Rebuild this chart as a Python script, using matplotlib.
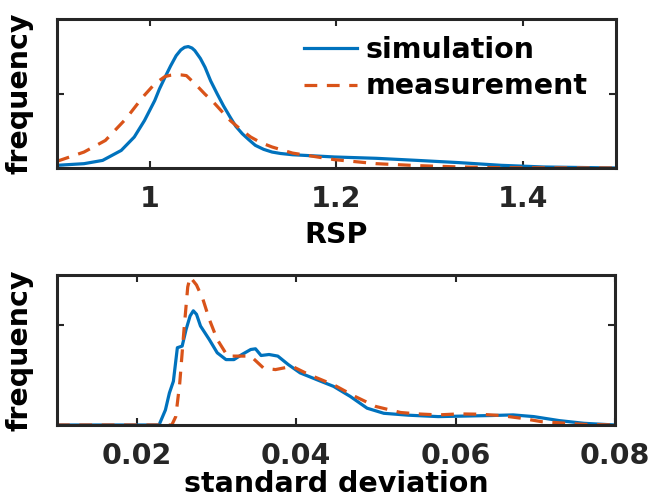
import numpy as np
import matplotlib
matplotlib.use("Agg")
import matplotlib.pyplot as plt

# RSP distribution (top panel)
rsp_sim_x = [0.900, 0.929, 0.949, 0.969, 0.983, 0.994, 1.005, 1.010, 1.016, 1.022,
             1.028, 1.033, 1.037, 1.041, 1.045, 1.048, 1.054, 1.059, 1.065, 1.072,
             1.079, 1.086, 1.092, 1.099, 1.106, 1.113, 1.122, 1.131, 1.140, 1.153,
             1.198, 1.243, 1.287, 1.332, 1.377, 1.422, 1.500]
rsp_sim_y = [0.036, 0.058, 0.102, 0.236, 0.416, 0.638, 0.906, 1.060, 1.218, 1.370,
             1.508, 1.585, 1.620, 1.630, 1.610, 1.576, 1.470, 1.352, 1.170, 0.996,
             0.830, 0.682, 0.560, 0.460, 0.380, 0.304, 0.250, 0.214, 0.195, 0.178,
             0.148, 0.130, 0.102, 0.072, 0.036, 0.014, 0.000]

rsp_meas_x = [0.900, 0.929, 0.952, 0.974, 0.992, 1.005, 1.016, 1.022, 1.028, 1.033,
              1.039, 1.044, 1.050, 1.059, 1.068, 1.077, 1.086, 1.097, 1.108, 1.119,
              1.131, 1.153, 1.198, 1.243, 1.287, 1.332, 1.377, 1.500]
rsp_meas_y = [0.090, 0.214, 0.370, 0.660, 0.950, 1.130, 1.228, 1.245, 1.254, 1.250,
              1.240, 1.180, 1.108, 0.990, 0.884, 0.760, 0.638, 0.520, 0.416, 0.340,
              0.282, 0.200, 0.112, 0.058, 0.032, 0.014, 0.004, 0.000]

# standard deviation distribution (bottom panel)
sd_sim_x = [0.0100, 0.0228, 0.0236, 0.0241, 0.0246, 0.0251, 0.0257, 0.0262, 0.0267,
            0.0271, 0.0275, 0.0280, 0.0291, 0.0301, 0.0312, 0.0322, 0.0332, 0.0343,
            0.0349, 0.0356, 0.0366, 0.0377, 0.0390, 0.0405, 0.0426, 0.0447, 0.0468,
            0.0489, 0.0510, 0.0541, 0.0578, 0.0615, 0.0646, 0.0672, 0.0698, 0.0730,
            0.0761, 0.0800]
sd_sim_y = [0.000, 0.000, 0.150, 0.320, 0.437, 0.773, 0.789, 0.957, 1.091, 1.142,
            1.107, 0.990, 0.855, 0.722, 0.654, 0.654, 0.705, 0.755, 0.762, 0.695,
            0.705, 0.689, 0.605, 0.521, 0.453, 0.386, 0.285, 0.168, 0.117, 0.098,
            0.084, 0.090, 0.095, 0.101, 0.084, 0.044, 0.017, 0.000]

sd_meas_x = [0.0100, 0.0244, 0.0249, 0.0254, 0.0259, 0.0264, 0.0267, 0.0275, 0.0283,
             0.0291, 0.0301, 0.0314, 0.0330, 0.0343, 0.0359, 0.0374, 0.0395, 0.0416,
             0.0447, 0.0474, 0.0500, 0.0531, 0.0552, 0.0578, 0.0604, 0.0630, 0.0656,
             0.0682, 0.0708, 0.0740, 0.0761, 0.0800]
sd_meas_y = [0.000, 0.000, 0.084, 0.420, 0.923, 1.380, 1.480, 1.400, 1.259, 1.058,
             0.855, 0.689, 0.689, 0.689, 0.570, 0.554, 0.587, 0.504, 0.402, 0.285,
             0.185, 0.125, 0.111, 0.101, 0.111, 0.108, 0.095, 0.068, 0.033, 0.017,
             0.006, 0.000]

blue = "#0072BD"
orange = "#D95319"
axcol = "#262626"
fs = 20.5

plt.rcParams["font.family"] = "DejaVu Sans"
plt.rcParams["font.weight"] = "bold"

fig = plt.figure(figsize=(6.55, 5.0), dpi=100)
ax1 = fig.add_axes([0.087, 0.664, 0.853, 0.298])
ax2 = fig.add_axes([0.087, 0.150, 0.852, 0.300])

ax1.plot(rsp_sim_x, rsp_sim_y, color=blue, lw=2.3, label="simulation")
ax1.plot(rsp_meas_x, rsp_meas_y, color=orange, lw=2.3, ls=(0, (4, 3)), label="measurement")
ax1.set_xlim(0.9, 1.5)
ax1.set_ylim(0, 2)
ax1.set_xticks([1, 1.2, 1.4])
ax1.set_xticklabels(["1", "1.2", "1.4"])
ax1.set_xlabel("RSP", fontsize=fs, fontweight="bold", labelpad=6)
ax1.legend(loc="upper right", frameon=False, fontsize=fs, handlelength=1.85,
           handletextpad=0.3, labelspacing=0.3, borderaxespad=0.3,
           bbox_to_anchor=(0.985, 1.02))

ax2.plot(sd_sim_x, sd_sim_y, color=blue, lw=2.3)
ax2.plot(sd_meas_x, sd_meas_y, color=orange, lw=2.3, ls=(0, (4, 3)))
ax2.set_xlim(0.01, 0.08)
ax2.set_ylim(0, 1.5)
ax2.set_xticks([0.02, 0.04, 0.06, 0.08])
ax2.set_xticklabels(["0.02", "0.04", "0.06", "0.08"])
ax2.set_xlabel("standard deviation", fontsize=fs, fontweight="bold", labelpad=0)

for ax in (ax1, ax2):
    ax.set_yticks([0, 1])
    ax.set_yticklabels([])
    ax.set_ylabel("frequency", fontsize=fs, fontweight="bold", labelpad=5)
    ax.tick_params(direction="in", top=True, right=True, length=5, width=1.5,
                   colors=axcol, labelsize=fs, pad=12)
    for lab in ax.get_xticklabels():
        lab.set_fontweight("bold")
    for sp in ax.spines.values():
        sp.set_linewidth(2.2)
        sp.set_color(axcol)

fig.savefig("out.png", dpi=100)
